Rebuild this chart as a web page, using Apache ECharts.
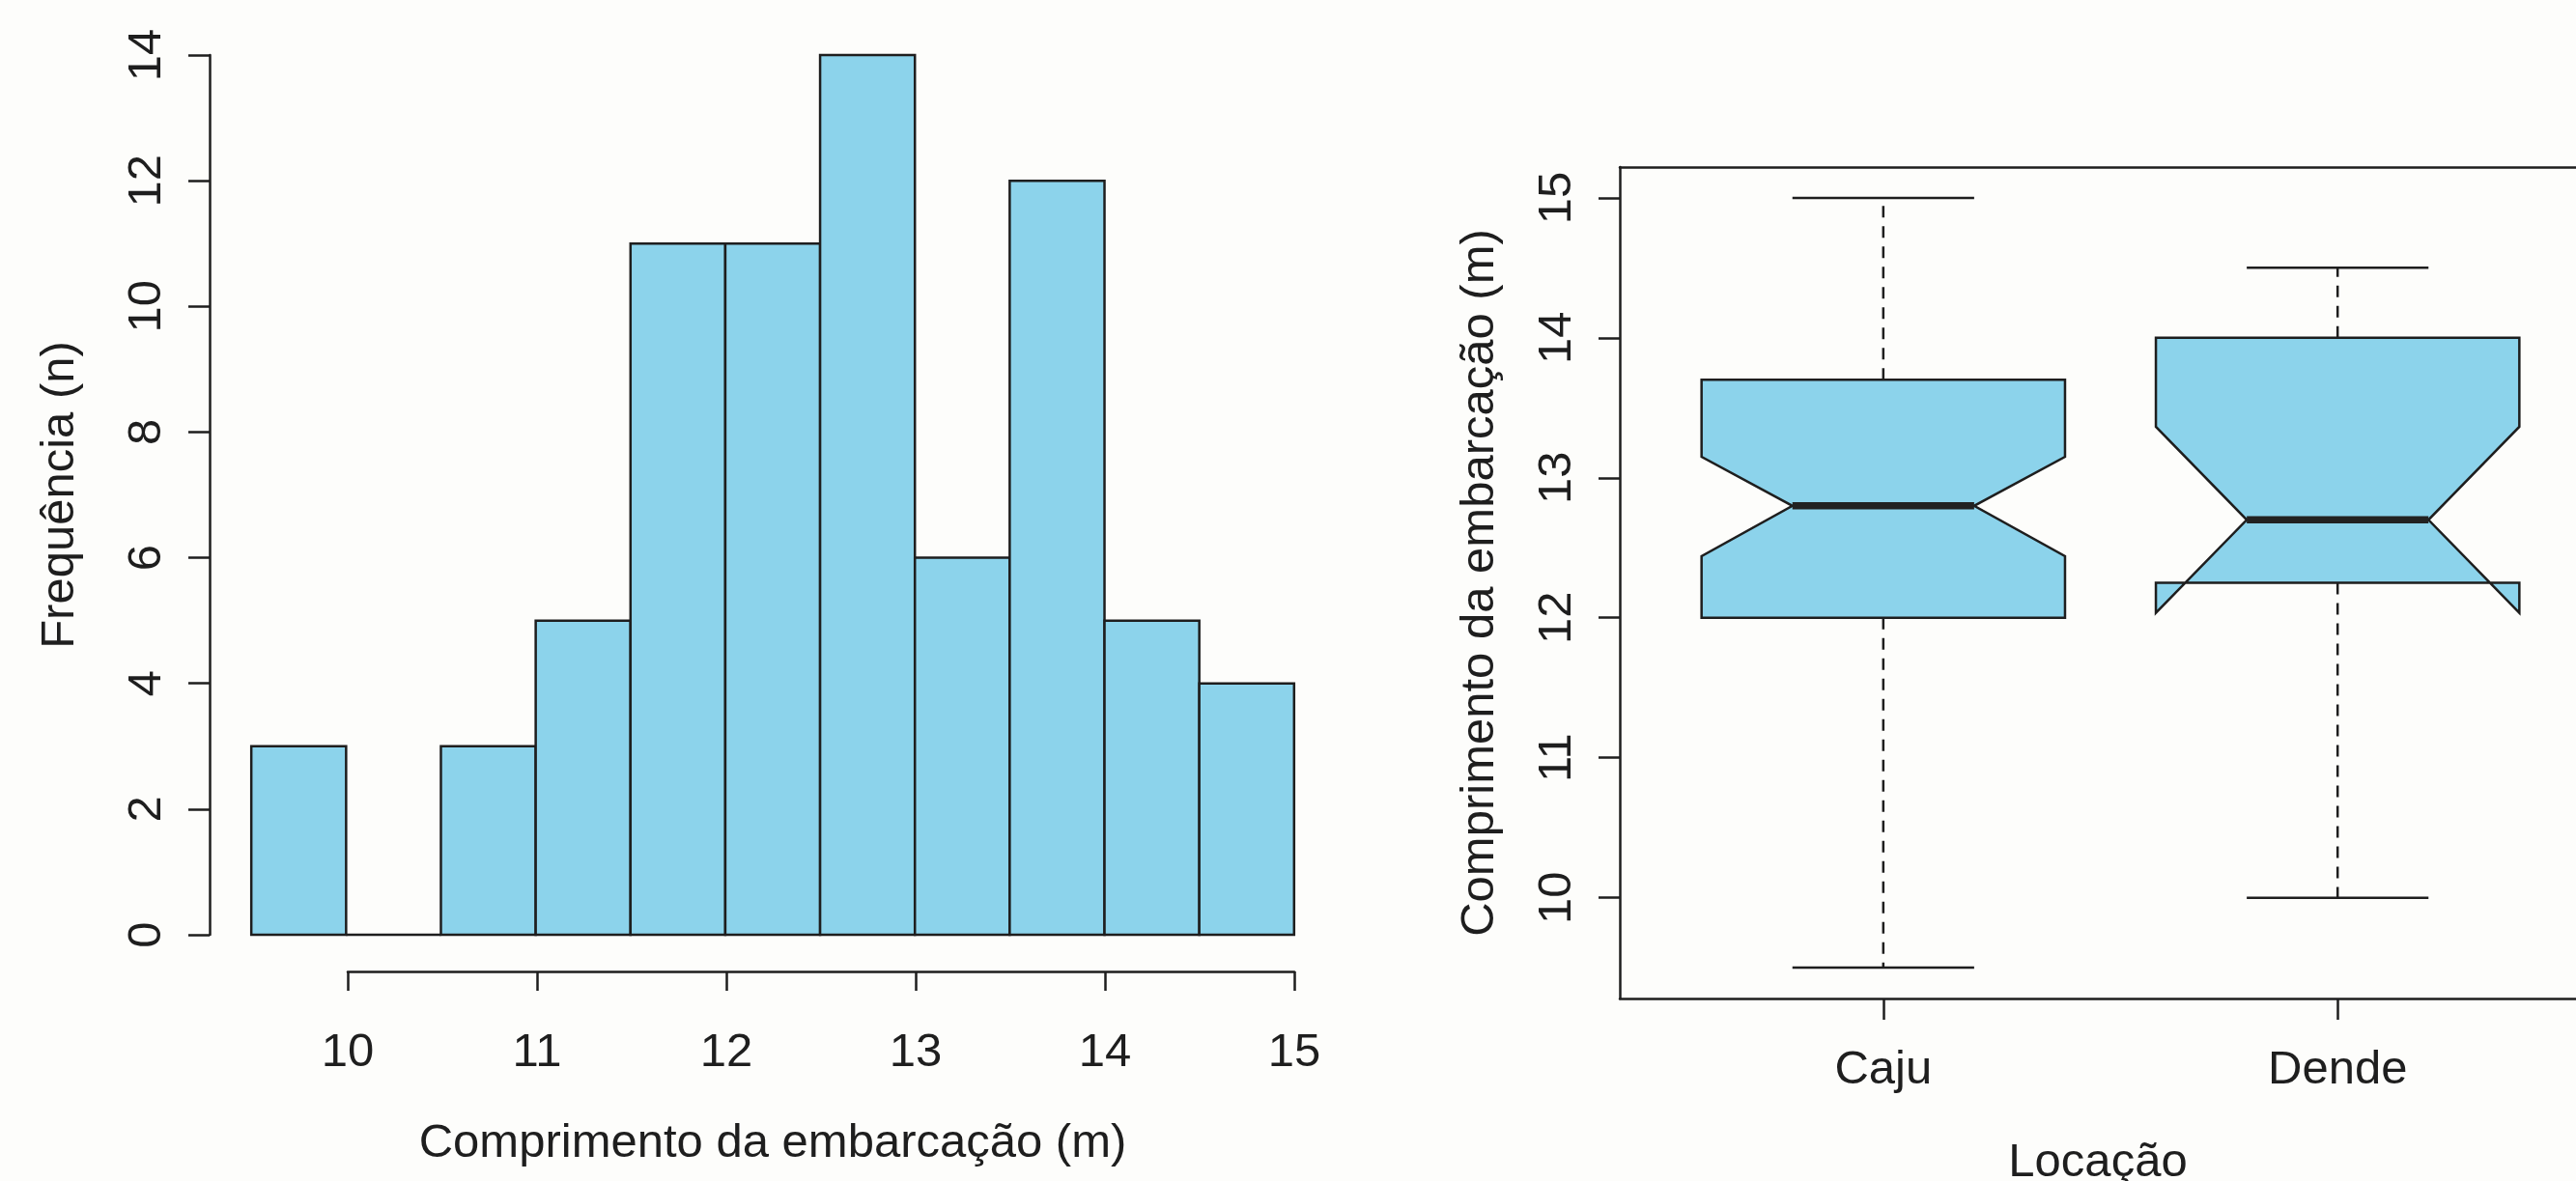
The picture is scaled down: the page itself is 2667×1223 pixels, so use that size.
<!DOCTYPE html>
<html>
<head>
<meta charset="utf-8">
<title>Comprimento das embarcações</title>
<script src="https://cdn.jsdelivr.net/npm/echarts@6/dist/echarts.min.js"></script>
<style>
  html, body { margin: 0; padding: 0; background: #fdfdfb; }
  #chart { width: 2667px; height: 1223px; }
</style>
</head>
<body>
<div id="chart"></div>
<script>
// ---- Histogram data: vessel length bins (m) and counts ----
const binEdges = [9.5, 10, 10.5, 11, 11.5, 12, 12.5, 13, 13.5, 14, 14.5, 15];
const binCounts = [3, 0, 3, 5, 11, 11, 14, 6, 12, 5, 4];
const histXTicks = [10, 11, 12, 13, 14, 15];

// ---- Notched boxplot data per location ----
const locations = ['Caju', 'Dende'];
const whiskerLow = [9.5, 10.0];
const quartile1 = [12.0, 12.25];
const medians = [12.8, 12.7];
const quartile3 = [13.7, 14.0];
const whiskerHigh = [15.0, 14.5];
const notchLow = [12.44, 12.035];
const notchHigh = [13.15, 13.365];
const boxYTicks = [10, 11, 12, 13, 14, 15];

// ---- Styling ----
const INK = '#1e1e1e';
const FILL = '#8cd3eb';
const FONT = "'Liberation Sans', Arial, Helvetica, sans-serif";
const FS = 49;
const BOX_HALF = 0.4;   // half box width in axis units
const CAP_HALF = 0.2;   // half staple width
const AXIS_LINE = { color: INK, width: 2.5 };

const histData = binCounts.map((c, i) => [binEdges[i], binEdges[i + 1], c]);
const boxData = locations.map((_, i) => [
  i + 1, whiskerLow[i], quartile1[i], medians[i], quartile3[i], whiskerHigh[i], notchLow[i], notchHigh[i]
]);

function renderBin(params, api) {
  const p0 = api.coord([api.value(0), api.value(2)]);
  const p1 = api.coord([api.value(1), 0]);
  return {
    type: 'rect',
    shape: { x: p0[0], y: p0[1], width: p1[0] - p0[0], height: p1[1] - p0[1] },
    style: { fill: FILL, stroke: INK, lineWidth: 2.5 }
  };
}

function renderBox(params, api) {
  const x = api.value(0);
  const low = api.value(1), q1 = api.value(2), med = api.value(3),
        q3 = api.value(4), high = api.value(5), nLo = api.value(6), nHi = api.value(7);
  const P = (dx, v) => api.coord([x + dx, v]);
  const hw = BOX_HALF, cw = CAP_HALF;
  const outline = [
    P(-hw, q1), P(-hw, nLo), P(-hw / 2, med), P(-hw, nHi), P(-hw, q3),
    P(hw, q3), P(hw, nHi), P(hw / 2, med), P(hw, nLo), P(hw, q1)
  ];
  const dash = { stroke: INK, lineWidth: 2.5, lineDash: [12, 9] };
  const solid = { stroke: INK, lineWidth: 2.5 };
  const seg = (a, b, style) => ({
    type: 'line', shape: { x1: a[0], y1: a[1], x2: b[0], y2: b[1] }, style
  });
  return {
    type: 'group',
    children: [
      seg(P(0, q3), P(0, high), dash),
      seg(P(0, q1), P(0, low), dash),
      seg(P(-cw, high), P(cw, high), solid),
      seg(P(-cw, low), P(cw, low), solid),
      { type: 'polygon', shape: { points: outline },
        style: { fill: FILL, stroke: INK, lineWidth: 2.5, lineJoin: 'miter' } },
      seg(P(-hw / 2, med), P(hw / 2, med), { stroke: '#222', lineWidth: 7.5 })
    ]
  };
}

const textBase = { color: INK, fontFamily: FONT, fontSize: FS };

const chart = echarts.init(document.getElementById('chart'), null, { renderer: 'canvas' });
chart.setOption({
  animation: false,
  backgroundColor: '#fdfdfb',
  grid: [
    { left: 217, top: 57, width: 1166, height: 911, outerBoundsMode: 'none' },
    { left: 360, top: 1005, width: 980, height: 1, outerBoundsMode: 'none' },
    // boxplot panel: frame continues past the right edge of the page
    { left: 1677, top: 173, width: 990, height: 861, outerBoundsMode: 'none' }
  ],
  xAxis: [
    { gridIndex: 0, type: 'value', min: 9.28, max: 15.22,
      axisLine: { show: false }, axisTick: { show: false }, axisLabel: { show: false },
      splitLine: { show: false },
      name: 'Comprimento da embarcação (m)', nameLocation: 'middle', nameGap: 192,
      nameTextStyle: textBase },
    { gridIndex: 1, type: 'value', min: histXTicks[0], max: histXTicks[histXTicks.length - 1], interval: 1,
      axisLine: { lineStyle: AXIS_LINE },
      axisTick: { length: 20, lineStyle: AXIS_LINE },
      axisLabel: Object.assign({ margin: 60 }, textBase),
      splitLine: { show: false } },
    { gridIndex: 2, type: 'value', min: 0.42, max: 2.5247, position: 'bottom',
      axisLine: { show: true, onZero: false, lineStyle: AXIS_LINE },
      axisTick: { length: 22, customValues: [1, 2], lineStyle: AXIS_LINE },
      axisLabel: Object.assign({ margin: 50, customValues: [1, 2],
        formatter: v => locations[Math.round(v) - 1] || '' }, textBase),
      splitLine: { show: false },
      name: 'Locação', nameLocation: 'middle', nameGap: 146, nameTextStyle: textBase },
    { gridIndex: 2, type: 'value', min: 0.42, max: 2.5247, position: 'top',
      axisLine: { show: true, onZero: false, lineStyle: AXIS_LINE },
      axisTick: { show: false }, axisLabel: { show: false }, splitLine: { show: false } }
  ],
  yAxis: [
    { gridIndex: 0, type: 'value', min: 0, max: 14, interval: 2,
      axisLine: { show: true, lineStyle: AXIS_LINE },
      axisTick: { show: true, length: 22, lineStyle: AXIS_LINE },
      axisLabel: Object.assign({ rotate: 90, margin: 40 }, textBase),
      splitLine: { show: false },
      name: 'Frequência (n)', nameLocation: 'middle', nameGap: 130, nameRotate: 90,
      nameTextStyle: textBase },
    { gridIndex: 1, type: 'value', min: 0, max: 1, show: false },
    { gridIndex: 2, type: 'value', min: 9.28, max: 15.22,
      axisLine: { show: true, onZero: false, lineStyle: AXIS_LINE },
      axisTick: { show: true, length: 22, customValues: boxYTicks, lineStyle: AXIS_LINE },
      axisLabel: Object.assign({ rotate: 90, margin: 40, customValues: boxYTicks }, textBase),
      splitLine: { show: false },
      name: 'Comprimento da embarcação (m)', nameLocation: 'middle', nameGap: 120, nameRotate: 90,
      nameTextStyle: textBase }
  ],
  series: [
    { type: 'custom', xAxisIndex: 0, yAxisIndex: 0, renderItem: renderBin,
      encode: { x: [0, 1], y: 2 }, data: histData, silent: true },
    { type: 'custom', xAxisIndex: 2, yAxisIndex: 2, renderItem: renderBox,
      encode: { x: 0, y: [1, 2, 3, 4, 5] }, data: boxData, silent: true }
  ]
});
</script>
</body>
</html>
